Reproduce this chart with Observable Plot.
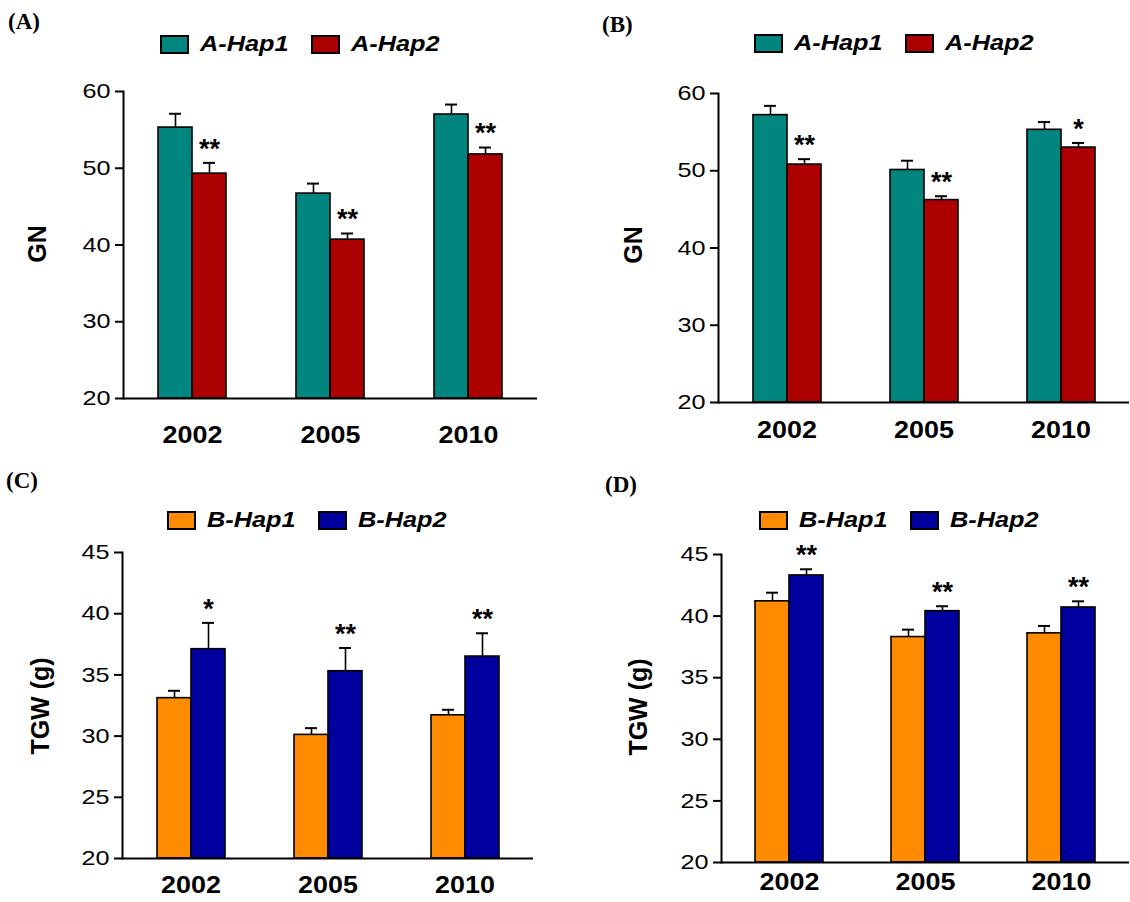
<!DOCTYPE html>
<html>
<head>
<meta charset="utf-8">
<script src="https://cdn.jsdelivr.net/npm/d3@7"></script>
<script src="https://cdn.jsdelivr.net/npm/@observablehq/plot@0.6"></script>
<style>
  html, body { margin: 0; padding: 0; background: #fff; }
  #root { position: relative; width: 1130px; height: 902px; overflow: hidden; background: #fff;
          font-family: "Liberation Sans", Arial, sans-serif; color: #000; }
  .panel { position: absolute; }
  .letter { position: absolute; font-family: "Liberation Serif", "Times New Roman", serif; font-weight: bold; font-size: 23px; line-height: 1; }
  .leg { position: absolute; display: flex; align-items: center; height: 18px; }
  .sw { width: 25px; height: 15px; border: 2px solid #000; flex: none; }
  .lt { margin-left: 11px; font-style: italic; font-weight: bold; font-size: 22px; line-height: 1; white-space: nowrap;
        transform: scaleX(1.15); transform-origin: left center; display: inline-block; }
  .ylab { position: absolute; font-weight: bold; font-size: 25px; line-height: 1; white-space: nowrap;
          transform: translate(-50%, -50%) rotate(-90deg); }
  svg [aria-label="fx-axis tick label"] text { font-weight: bold; }
  svg [aria-label="y-axis tick label"] { font-size: 21px; }
</style>
</head>
<body>
<div id="root"></div>
<script>
// ---------------- data ----------------
const years = ["2002", "2005", "2010"];
const hapsA = ["A-Hap1", "A-Hap2"];
const hapsB = ["B-Hap1", "B-Hap2"];
const colorsA = ["#00857f", "#ad0000"];
const colorsB = ["#ff8c00", "#00009e"];
const gnTicks = [20, 30, 40, 50, 60];
const tgwTicks = [20, 25, 30, 35, 40, 45];

// Panel A: GN
const aHap1 = [55.3, 46.7, 57.0];
const aHap1Err = [1.8, 1.3, 1.3];
const aHap2 = [49.3, 40.7, 51.8];
const aHap2Err = [1.4, 0.8, 0.9];
const aSig = ["**", "**", "**"];

// Panel B: GN
const bHap1 = [57.2, 50.1, 55.3];
const bHap1Err = [1.2, 1.2, 1.0];
const bHap2 = [50.8, 46.2, 53.0];
const bHap2Err = [0.7, 0.5, 0.6];
const bSig = ["**", "**", "*"];

// Panel C: TGW
const cHap1 = [33.1, 30.1, 31.7];
const cHap1Err = [0.6, 0.55, 0.45];
const cHap2 = [37.1, 35.3, 36.5];
const cHap2Err = [2.15, 1.9, 1.9];
const cSig = ["*", "**", "**"];

// Panel D: TGW
const dHap1 = [41.2, 38.3, 38.6];
const dHap1Err = [0.7, 0.6, 0.6];
const dHap2 = [43.3, 40.4, 40.7];
const dHap2Err = [0.5, 0.4, 0.5];
const dSig = ["**", "**", "**"];

function rowsOf(haps, v1, e1, v2, e2, sig) {
  return years.flatMap((year, i) => [
    {year, hap: haps[0], value: v1[i], err: e1[i], sig: ""},
    {year, hap: haps[1], value: v2[i], err: e2[i], sig: sig[i]}
  ]);
}

// ---------------- layout ----------------
const panels = [
  {letter: "(A)", letterPos: [8, 10], left: 0, top: 0, ylabel: "GN", ylabPos: [37, 244],
   haps: hapsA, colors: colorsA, ticks: gnTicks, yearPad: 27,
   rows: rowsOf(hapsA, aHap1, aHap1Err, aHap2, aHap2Err, aSig),
   m: {l: 122, r: 27, t: 91, b: 53}, legTop: 35, legLeft: [160, 311]},
  {letter: "(B)", letterPos: [602, 13], left: 565, top: 0, ylabel: "GN", ylabPos: [633, 245],
   haps: hapsA, colors: colorsA, ticks: gnTicks, yearPad: 18,
   rows: rowsOf(hapsA, bHap1, bHap1Err, bHap2, bHap2Err, bSig),
   m: {l: 152, r: 0, t: 93, b: 49}, legTop: 34, legLeft: [754, 905]},
  {letter: "(C)", letterPos: [6, 469], left: 0, top: 451, ylabel: "TGW (g)", ylabPos: [40, 706],
   haps: hapsB, colors: colorsB, ticks: tgwTicks, yearPad: 17,
   rows: rowsOf(hapsB, cHap1, cHap1Err, cHap2, cHap2Err, cSig),
   m: {l: 121, r: 31, t: 101, b: 44}, legTop: 511, legLeft: [167, 318]},
  {letter: "(D)", letterPos: [605, 473], left: 565, top: 451, ylabel: "TGW (g)", ylabPos: [638, 707],
   haps: hapsB, colors: colorsB, ticks: tgwTicks, yearPad: 10,
   rows: rowsOf(hapsB, dHap1, dHap1Err, dHap2, dHap2Err, dSig),
   m: {l: 155, r: 0, t: 103, b: 40}, legTop: 511, legLeft: [759, 910]}
];

const root = document.getElementById("root");

// widen glyphs horizontally to match the reference's stretched type
function stretch(svg, selector, factor) {
  svg.querySelectorAll(selector).forEach(t => {
    const len = t.getComputedTextLength();
    if (len > 0) {
      t.setAttribute("textLength", (len * factor).toFixed(2));
      t.setAttribute("lengthAdjust", "spacingAndGlyphs");
    }
  });
}

for (const p of panels) {
  const yMin = p.ticks[0], yMax = p.ticks[p.ticks.length - 1];
  const top = d => d.value + d.err;
  const chart = Plot.plot({
    width: 565, height: 451,
    marginLeft: p.m.l, marginRight: p.m.r, marginTop: p.m.t, marginBottom: p.m.b,
    style: {fontFamily: '"Liberation Sans", Arial, sans-serif', color: "#000", background: "transparent", overflow: "visible"},
    fx: {domain: years, padding: 0, label: null},
    x: {domain: p.haps, paddingInner: 0, paddingOuter: 1, axis: null},
    y: {domain: [yMin, yMax], label: null},
    color: {domain: p.haps, range: p.colors},
    marks: [
      Plot.axisY({ticks: p.ticks, tickSize: 8, tickPadding: 5, strokeWidth: 2, fontSize: 21, label: null}),
      Plot.axisFx({anchor: "bottom", tickSize: 0, tickPadding: p.yearPad, fontSize: 24, fontWeight: "bold", label: null}),
      Plot.ruleX(p.rows, {fx: "year", x: "hap", y1: "value", y2: top, stroke: "#000", strokeWidth: 1.6}),
      Plot.tickY(p.rows, {fx: "year", x: "hap", y: top, insetLeft: 11, insetRight: 11, stroke: "#000", strokeWidth: 2}),
      Plot.barY(p.rows, {fx: "year", x: "hap", y1: yMin, y2: "value", fill: "hap", stroke: "#000", strokeWidth: 1.6}),
      Plot.text(p.rows.filter(d => d.sig), {fx: "year", x: "hap", y: top, text: "sig", dy: -14, fontSize: 27, fontWeight: "bold", fill: "#000"}),
      Plot.ruleY([yMin], {stroke: "#000", strokeWidth: 2}),
      Plot.frame({anchor: "left", facetAnchor: "left", stroke: "#000", strokeWidth: 2})
    ]
  });
  chart.classList.add("panel");
  chart.style.left = p.left + "px";
  chart.style.top = p.top + "px";
  root.appendChild(chart);
  stretch(chart, '[aria-label="y-axis tick label"] text', 1.2);
  stretch(chart, '[aria-label="fx-axis tick label"] text', 1.12);

  const L = document.createElement("div");
  L.className = "letter";
  L.textContent = p.letter;
  L.style.left = p.letterPos[0] + "px";
  L.style.top = p.letterPos[1] + "px";
  root.appendChild(L);

  const Y = document.createElement("div");
  Y.className = "ylab";
  Y.textContent = p.ylabel;
  Y.style.left = p.ylabPos[0] + "px";
  Y.style.top = p.ylabPos[1] + "px";
  root.appendChild(Y);

  p.haps.forEach((h, i) => {
    const item = document.createElement("div");
    item.className = "leg";
    item.style.left = p.legLeft[i] + "px";
    item.style.top = p.legTop + "px";
    const sw = document.createElement("div");
    sw.className = "sw";
    sw.style.background = p.colors[i];
    const t = document.createElement("span");
    t.className = "lt";
    t.textContent = h;
    item.appendChild(sw);
    item.appendChild(t);
    root.appendChild(item);
  });
}
</script>
</body>
</html>
